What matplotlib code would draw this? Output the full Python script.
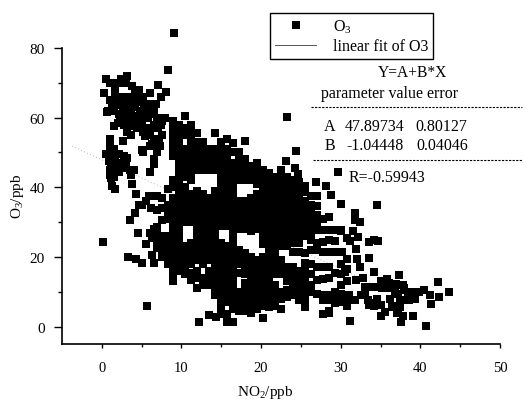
import matplotlib
matplotlib.use('Agg')
import matplotlib.pyplot as plt
from matplotlib.lines import Line2D

plt.rcParams['font.family'] = ['Liberation Serif', 'DejaVu Serif']
plt.rcParams['mathtext.default'] = 'regular'

# top left group
top_x = [0.5,0.3,1.0,1.6,2.0,2.4,3.2,3.0,3.8,1.0,1.6,0.8,1.3,2.1,2.6,3.1,3.6,4.2,4.7,5.2,5.6,6.0,7.1,8.1,7.4,6.6,
         2.1,2.7,3.2,3.7,4.2,4.8,5.3,5.8,6.3,0.7,1.5,2.0,2.8,3.1,3.7,4.1,4.8,5.2,5.7,6.1,6.6,7.0,7.5,7.9,7.5,7.2,6.3,
         2.5,3.3,4.5,5.5,6.8,8.3,9.1,
         3.9,4.5,5.0,5.5,3.3,2.3,3.5,4.4,5.0,5.6,6.5,6.9,7.4,1.8,2.4,2.9,3.5,4.5,5.0,6.2,4.0,1.5,1.5]
top_y = [71,67,70,68,70,71,72,70,69,65,66,62,63,65,66,66,65,67,68,66,64,67,69.5,67.4,66,62,
         61,62,63,62,63,62,63,60,61,61.6,57.6,58.5,58,56,55,59,59,56,57,56,54,57,59,60,55,53,52.5,
         60,59,57.5,62,64,73.8,84.4,
         60.5,60.5,60.8,61.5,60,59.5,57.5,57,57.5,55,58,60,58,63.5,63.5,64,64,64.5,64.8,64,66,62,64.5]

# left group under it
left_x = [1.0,1.0,1.1,0.5,1.6,2.2,2.8,3.2,0.9,1.3,1.8,2.4,3.0,1.0,1.5,2.2,1.0,3.5,3.7,4.0,1.2,1.7,1.3,3.8,2.6,
          5.4,5.1,5.2,6.0,6.7,7.3,6.9,6.5,6.5,6.1,1.5,1.5,2.0,2.5,1.5,1.1]
left_y = [54,52,50,49.5,49,49.5,49,48.5,47.5,47,47,47,46.5,45,45,44.5,43.5,45,43.5,45,42.8,39.5,40.5,41,53.4,
          54.7,50.7,50,52,52,52,50,48,46.8,44.4,51,48,46,45.5,43,46]

# points around the edge of the big cloud, and the lone ones
edge_x = [0.1,5.7,3.5,4.2,4.5,5.0,5.5,3.3,4.3,5.1,6.3,6.6,6.0,6.5,6.3,4.3,5.9,4.7,5.5,6.2,12.2,13.4,14.3,
          23.2,24.4,23.1,24.2,29.6,28.8,24.6,26.9,28.2,34.5]
edge_y = [24.3,6.0,30.5,32.6,27.0,35,23.6,19.9,19.3,18.2,20.5,18.3,27,28,25.5,38,37.5,35,36,34,1.4,3.3,2.8,
          60.2,50.4,47.6,45.5,44.4,37.8,43.8,41.5,40.3,34.9]

# right tail
tail_x = [31.8,31.8,32.4,30.0,31.5,31.2,32.2,31.9,30.2,34.2,34.7,33.6,32.0,33.5,30.5,32.4,31.9,32.8,34.2,35.1,35.8,37.3,37.8,
          42.2,43.6,42.4,41.3,40.7,39.1,35.1,31.2,37.6,33.0,34.5,37.2,36.0,38.0,38.5,39.0,39.8,40.5,41.2,35.0,36.2,36.8,37.5,38.3,
          36.5,37.2,37.8,38.6,39.3,33.0,33.8,34.5,35.2,36.0,37.0,37.9,33.5,34.2,35.5,36.8,37.5,37.1,31.0,31.8,32.5,33.4,34.0]
tail_y = [32.5,30.5,30,27.4,27.5,24.5,25.6,22.2,21.3,25,24.5,24.2,19.3,19.6,15.6,17,13.5,14,15.6,13,13.8,14.7,12,
          12.7,9.8,8.6,6.6,0.3,2.9,2.9,1.7,1.2,9.8,8.0,9.5,11,11,9.8,10,9.8,10.5,9,6.3,8,10,7.5,7.5,
          5.5,4.9,2.9,7.5,8,11.5,11.5,11.5,11,12.5,12.2,10.5,6.3,5.8,4.3,6,5.5,3.8,9,7.5,9,7.5,6.8]

# the dense cloud, one NO2 value with all O3 values read above it
col_x = [6.9,7.6,8.3,9.0,9.75,10.5,11.25,12.0,12.75,13.5,14.25,15.0,15.75,16.5,17.25,18.0,18.75,19.5,20.25,21.0,
         21.75,22.5,23.25,24.0,24.75,25.5,26.25,27.0,27.75,28.5,29.25,30.0,30.75]
col_y = [
    [22.5,24.5,26.5,28.5,33.5,37.5],
    [20,22,24,26,30.5,34,37],
    [18,20,22,24,26,31,33,35,39.5],
    [13,15,17,19,21,23,25,27,29,31,33,35,37,40,42,49,51,53,55,57,59],
    [16,18,20,22,24,26,28,30,32,34,36,38,40,42,44,46,48,50,52,54,56,58],
    [15,17,19,21,23,30,32,34,36,38,40,43,45,47,49,51,55,57,60.5],
    [13.5,15.5,18,20,22,24,30,32,34,36,38,42,44,46,48,50,52,54,56,58],
    [11,14,16,19,21,23,25,27,29,31,33,35,37,39,45,47,49,51,53,55.5],
    [12,14,18,20,22,24,26,28,30,32,34,36,38,45,47,49,51,53],
    [12,14,16,19,21,23,25,27,29,31,33,35,37,45,47,49,51],
    [9,11,13,15,17,19,21,23,25,27,29,31,33,35,37,39,45,47,49,51,55.6],
    [3.5,6,8,10,12,14,16,18,20,22,24,29,31,33,35,37,39,41,43,45,47,49,51,53],
    [1.3,3.5,7,9,11,13,15,17,19,21,23,29,31,33,35,37,39,41,43,45,47,49,51,54],
    [1.3,5,7,9,11,13,15,17,19,21,23,25,27,29,31,33,35,37,39,41,43,45,47,50,52.7],
    [4.5,6,8,10,15.5,18,20,22,28,30,32,34,36,42,44,46,48,50],
    [4.5,6.5,8.5,10.5,12.5,15,17,19,21,28,30,32,34,36,42,44,46,48,53.3],
    [4,6,8,10,12,14,16,18,20,27.5,29.5,31.5,33.5,35.5,37,42,44,46],
    [5,7,9,11,13,15,17,19,28,30,32,34,36,38,41,43,45,47],
    [2.6,6,8,10,12,14,16,18,20,23.6,25,27,29,31,33,35,37,39,41,43,45],
    [5.5,8,10,12,14,16,18,20,22,24,26,28,30,32,34,36,38,40,42,44],
    [6,8,10,12,15,17,19,21,23,25,27,29,31,33,35,37,39,41,43],
    [5,8,10,15,17,19,23,25,27,29,31,33,35,37,39,41,43,45],
    [8.5,10.5,13,15,17,23,25,27,29,31,33,35,37,39,41,43],
    [9,11,13,15,17,21.5,24,26,28,30,32,34,36,38,40,42],
    [7.5,9.8,12,14,16,21.3,24,26,28,30,32,34,36,38,40,41.5],
    [7.5,5.5,10,12,14,16,18.4,21,26,28,30,32,34,36,38.6,40.3],
    [9.8,12,15,18,22,25,27,29,31,33,35,37.5],
    [9.5,13.3,17,22,24,27.7,30,32,34.6,37.5],
    [9,7.5,3.7,13.8,17,21.3,24.2,27.7,31],
    [9,4.6,4,7.5,17,14,21.3,25,27.7,31.4],
    [8,10,6.9,15.5,21.3,24.5,27.7],
    [9.5,7,12,15,18,21.3,27.7,35.2],
    [8,6,13,16.5,19.3,25.4],
]

legend_labels = ['O$_3$', 'linear fit of O3']
fit_A = 47.89734
fit_B = -1.04448
fit_range = [-3.75, 34.9]
fit_y = [fit_A + fit_B * v for v in fit_range]

no2 = top_x + left_x + edge_x + tail_x
o3 = top_y + left_y + edge_y + tail_y
for x, ys in zip(col_x, col_y):
    no2 = no2 + [x] * len(ys)
    o3 = o3 + ys

W, H = 526, 402
fig = plt.figure(figsize=(W / 100, H / 100), dpi=100)
ax = fig.add_axes([62 / W, 1 - 345 / H, 438 / W, 296 / H])

pts, = ax.plot(no2, o3, 's', color='black', ms=5.4, mew=0, clip_on=False, zorder=3)
fit, = ax.plot(fit_range, fit_y, color='#999999', lw=0.6, ls=(0, (1, 3)), zorder=2)

ax.set_xlim(-5, 50)
ax.set_ylim(-5, 80)
ax.spines['top'].set_visible(False)
ax.spines['right'].set_visible(False)
ax.spines['left'].set_linewidth(1.2)
ax.spines['bottom'].set_linewidth(1.2)
ax.set_xticks([0, 10, 20, 30, 40, 50])
ax.set_xticks([5, 15, 25, 35, 45], minor=True)
ax.set_yticks([0, 20, 40, 60, 80])
ax.set_yticks([10, 30, 50, 70], minor=True)
ax.tick_params(axis='x', which='major', length=3, width=1, labelsize=10.5, pad=9)
ax.tick_params(axis='x', which='minor', length=2, width=1)
ax.tick_params(axis='y', which='major', length=6, width=1, labelsize=11, pad=6.5)
ax.tick_params(axis='y', which='minor', length=3, width=1)


def put(px, py, s, **kw):
    fig.text(px / W, 1 - py / H, s, va='center', color='black', **kw)


put(265, 393, 'NO$_2$/ppb', ha='center', fontsize=11)
put(17, 196, 'O$_3$/ppb', ha='center', fontsize=11, rotation=90)

legend_handle = Line2D([], [], color='#555555', lw=0.7)
leg = fig.legend([Line2D([], [], marker='s', color='black', ls='', ms=5.4, mew=0), legend_handle], legend_labels,
                 loc='upper left', bbox_to_anchor=(270 / W, 1 - 14 / H), borderaxespad=0,
                 fancybox=False, framealpha=1, edgecolor='black', fontsize=11.5, handlelength=2.6,
                 handletextpad=1.05, labelspacing=0.2, borderpad=0.3)
leg.get_frame().set_linewidth(1.0)

put(413, 73, 'Y=A+B*X', ha='center', fontsize=11.2)
put(321, 94, 'parameter value error', ha='left', fontsize=11.5)
put(324, 127, 'A', ha='left', fontsize=11.5)
put(345, 127, '47.89734', ha='left', fontsize=11.5)
put(415, 127, '0.80127', ha='left', fontsize=11.5)
put(325, 146, 'B', ha='left', fontsize=11.5)
put(346, 146, '-1.04448', ha='left', fontsize=11.5)
put(416, 146, '0.04046', ha='left', fontsize=11.5)
put(349, 178, 'R=-0.59943', ha='left', fontsize=11.5)

for py, x0 in [(108, 311), (161, 313)]:
    fig.add_artist(Line2D([x0 / W, 522 / W], [1 - py / H, 1 - py / H], color='black', lw=0.8, ls=(0, (2, 1.2))))

fig.savefig('out.png', dpi=100)
